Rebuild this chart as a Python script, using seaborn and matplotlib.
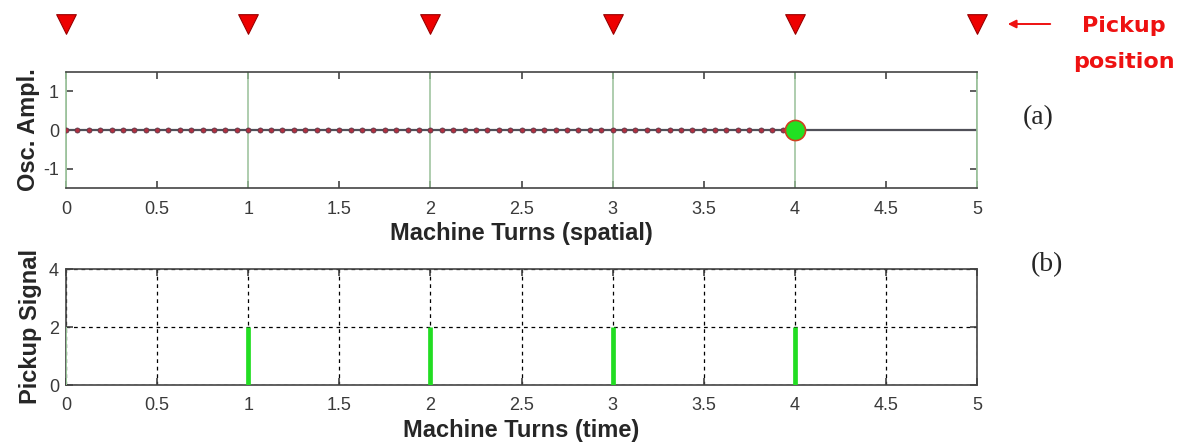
import numpy as np
import pandas as pd
import matplotlib
matplotlib.use("Agg")
import matplotlib.pyplot as plt
import seaborn as sns

# ---- data ----
pickup_turns = [0, 1, 2, 3, 4, 5]          # pickup locations (machine turns)
bunches_per_turn = 16
turns_filled = 4
bunch_turns = np.arange(0, turns_filled, 1 / bunches_per_turn)
bunch_ampl = np.zeros_like(bunch_turns)
head_turn = [4.0]
head_ampl = [0.0]
line_x = [0, 5]
line_y = [0, 0]
signal_turns = [0, 1, 2, 3, 4]
signal_values = [2, 2, 2, 2, 2]
x_ticks = [0, 0.5, 1, 1.5, 2, 2.5, 3, 3.5, 4, 4.5, 5]
x_tick_labels = ["0", "0.5", "1", "1.5", "2", "2.5", "3", "3.5", "4", "4.5", "5"]

sns.set_theme(style="white")
plt.rcParams["font.family"] = ["Liberation Sans", "DejaVu Sans"]

fig = plt.figure(figsize=(11.84, 4.42), dpi=100)
L, W = 66 / 1184, (977 - 66) / 1184
ax_tri = fig.add_axes([L, 1 - 44 / 442, W, 40 / 442])
ax_a = fig.add_axes([L, 1 - 188 / 442, W, 116 / 442])
ax_b = fig.add_axes([L, 1 - 385 / 442, W, 116 / 442])

tick_col = "#3a3a3a"

# pickup markers
df_tri = pd.DataFrame({"x": pickup_turns, "y": [0] * len(pickup_turns)})
sns.scatterplot(data=df_tri, x="x", y="y", ax=ax_tri, marker="v", s=200,
                color="#ee0000", edgecolor="#990000", linewidth=0.8,
                legend=False, clip_on=False)
ax_tri.set_xlim(0, 5)
ax_tri.set_ylim(-1, 1)
ax_tri.axis("off")

# (a) oscillation amplitude
for t in pickup_turns:
    ax_a.axvline(t, color="#98c098", lw=1.1, zorder=1)
sns.lineplot(x=line_x, y=line_y, ax=ax_a, color="#505058", lw=1.6, zorder=2)
df_b = pd.DataFrame({"x": bunch_turns, "y": bunch_ampl})
sns.scatterplot(data=df_b, x="x", y="y", ax=ax_a, s=13, color="#b03040",
                edgecolor="#5a3848", linewidth=0.6, zorder=3, legend=False)
sns.scatterplot(x=head_turn, y=head_ampl, ax=ax_a, s=210, color="#22e022",
                edgecolor="#d04020", linewidth=1.2, zorder=4, legend=False,
                clip_on=False)
ax_a.set_xlim(0, 5)
ax_a.set_ylim(-1.5, 1.5)
ax_a.set_yticks([-1, 0, 1])
ax_a.set_yticklabels(["-1", "0", "1"])
ax_a.set_xticks(x_ticks)
ax_a.set_xticklabels(x_tick_labels)
ax_a.set_xlabel("Machine Turns (spatial)", fontsize=17, fontweight="bold", labelpad=3)
ax_a.set_ylabel("Osc. Ampl.", fontsize=17, fontweight="bold", labelpad=2)

# (b) pickup signal
ax_b.vlines(signal_turns[1:], 0, signal_values[1:], color="#22dd22", lw=3.4, zorder=3)
ax_b.vlines(signal_turns[:1], 0, signal_values[:1], color="#a8e0a8", lw=1.2, zorder=3)
ax_b.set_xlim(0, 5)
ax_b.set_ylim(0, 4)
ax_b.set_yticks([0, 2, 4])
ax_b.set_xticks(x_ticks)
ax_b.set_xticklabels(x_tick_labels)
ax_b.grid(True, color="black", linestyle=(0, (3, 3)), lw=0.9)
ax_b.set_xlabel("Machine Turns (time)", fontsize=17, fontweight="bold", labelpad=3)
ax_b.set_ylabel("Pickup Signal", fontsize=17, fontweight="bold", labelpad=5)

for ax in (ax_a, ax_b):
    for s in ax.spines.values():
        s.set_color("#444444")
        s.set_linewidth(1.2)
    ax.tick_params(direction="in", length=5, width=1.2, color="#444444",
                   labelsize=13, labelcolor=tick_col, top=True, right=True,
                   bottom=True, left=True)
    ax.tick_params(axis="x", pad=9)
    ax.tick_params(axis="y", pad=5)
ax_a.spines["right"].set_color("#98c098")
ax_a.spines["left"].set_color("#98c098")

# annotations
fig.text(1038 / 1184, 1 - 118 / 442, "(a)", fontsize=20, family="Liberation Serif",
         ha="center", va="center")
fig.text(1047 / 1184, 1 - 265 / 442, "(b)", fontsize=20, family="Liberation Serif",
         ha="center", va="center")
fig.text(1124 / 1184, 1 - 26 / 442, "Pickup", fontsize=16, color="#ee1111",
         fontweight="bold", ha="center", va="center", family="DejaVu Sans")
fig.text(1124 / 1184, 1 - 62 / 442, "position", fontsize=16, color="#ee1111",
         fontweight="bold", ha="center", va="center", family="DejaVu Sans")
fig.add_artist(matplotlib.patches.FancyArrowPatch(
    (1053 / 1184, 1 - 24 / 442), (1005 / 1184, 1 - 24 / 442),
    transform=fig.transFigure, arrowstyle="-|>", mutation_scale=12,
    color="#ee1111", lw=1.4))

fig.savefig("out.png", dpi=100)
